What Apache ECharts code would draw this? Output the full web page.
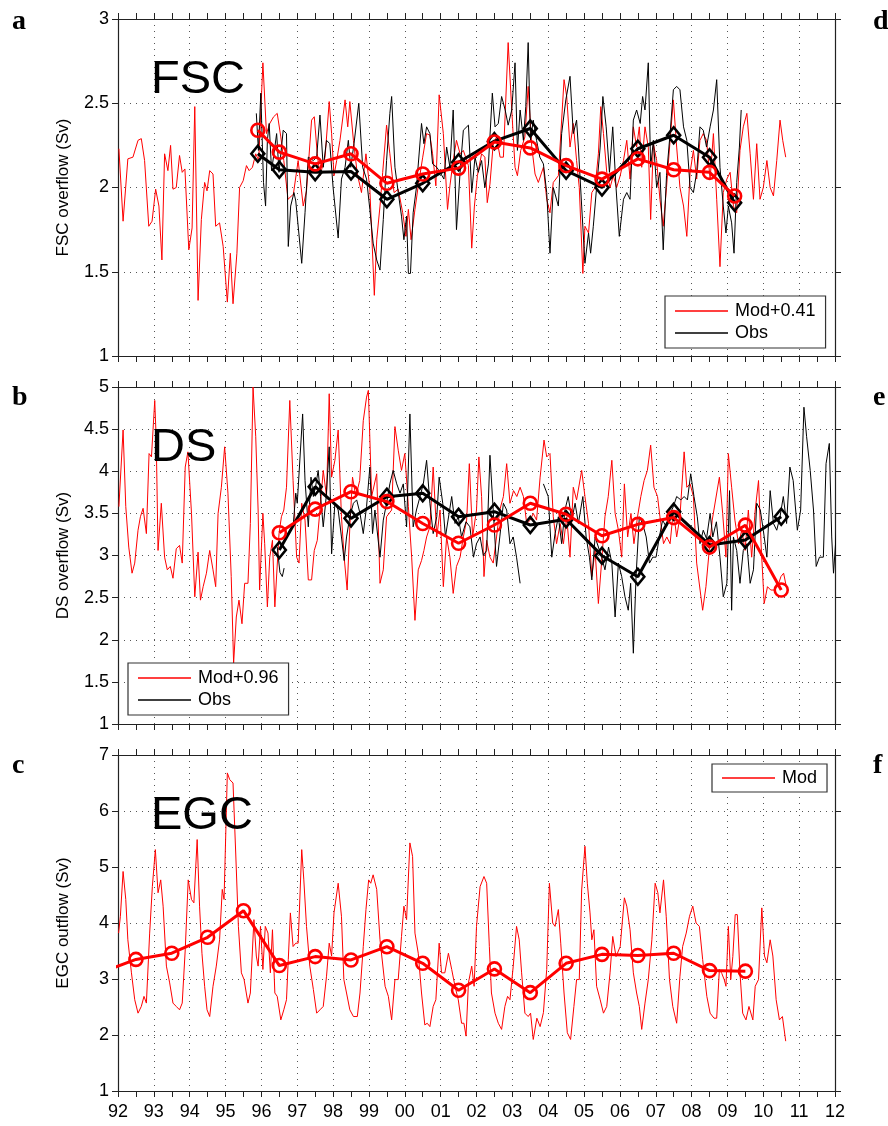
<!DOCTYPE html>
<html>
<head>
<meta charset="utf-8">
<script src="https://cdn.jsdelivr.net/npm/echarts@6/dist/echarts.min.js"></script>
<style>
html,body{margin:0;padding:0;background:#fff;}
#chart{width:888px;height:1126px;}
</style>
</head>
<body>
<div id="chart"></div>
<script>
// Monthly series are stored as [month index since Jan 1992, value].
const START_YEAR = 92;
const X_MIN = 92, X_MAX = 112;

// ---------- Panel a: FSC overflow (Sv) ----------
const fscMod = [[0.3,2.23],[1.7,1.80],[3.3,2.17],[5,2.18],[6.7,2.28],[7.8,2.29],[8.9,2.16],[10.3,1.77],[11.4,1.80],[12.6,1.99],[13.7,1.89],[14.7,1.57],[15.6,2.20],[16.7,2.10],[17.6,2.25],[18.4,1.99],[19.5,2.0],[20.6,2.19],[21.5,2.09],[22.4,2.11],[23.7,1.63],[24.8,1.76],[25.7,2.48],[26.8,1.33],[27.9,1.81],[29,2.03],[29.8,1.98],[30.7,2.10],[31.8,2.08],[32.7,1.77],[34,1.79],[35.2,1.65],[36.6,1.32],[37.6,1.61],[38.5,1.31],[39.8,1.61],[40.7,2.0],[41.9,2.04],[43,2.13],[43.9,2.10],[45,2.12],[46.1,2.20],[47.1,2.16],[48.5,2.74],[49.7,2.32],[50.8,2.38],[52.1,2.42],[53.3,2.44],[54.5,2.30],[55.5,2.16],[56.9,1.93],
[58.7,1.96],[60.3,2.16],[62,1.89],[63.1,1.98],[64.8,2.40],[65.7,2.42],[66.7,2.20],[67.6,2.07],[69.3,2.18],[70.7,2.51],[71.5,2.32],[72.3,2.07],[73.2,2.16],[74.3,2.28],[76,2.52],[76.9,2.36],[77.6,2.51],[78.8,2.28],[80.1,2.08],[81.5,1.97],[83,2.20],[84.3,1.99],[85.8,1.36],[86.6,1.69],[87.7,1.89],[88.6,2.09],[89.9,2.37],[91,2.20],[92.4,1.97],[93.8,1.99],[95.3,1.85],[96.4,1.71],[97.2,1.87],[98.1,1.69],[99.4,1.87],[100.5,2.01],[102,2.18],[103.3,2.32],[104.4,2.31],[105.3,2.20],[106.4,2.01],[107.5,2.55],[108.9,2.32],[110.3,1.87],[111.1,2.01],[112.2,2.16],[113.3,2.28],[114.5,2.20],[115.6,2.22],[117.3,2.13],[118.4,1.64],[119.3,1.89],[120.3,2.07],[121.7,2.20],[122.8,2.18],[123.6,1.91],[124.5,2.02],[125.6,2.26],[126.7,2.30],[127.9,2.18],[129,2.18],[130.6,2.86],[131.8,2.46],[132.9,2.12],[133.7,2.07],[134.8,2.22],[136.2,2.30],[137.3,2.60],[138.5,2.24],[139.6,2.08],[140.7,2.03],[142.4,2.12],[143.5,1.93],[144.6,1.85],[145.7,2.03],[147.4,2.07],
[149.3,2.64],[150.2,2.54],[151.3,2.24],[152.4,2.38],[153.5,2.16],[154.4,2.0],[155.6,1.49],[156.3,1.77],[157.5,1.73],[158.6,1.97],[159.7,2.0],[160.8,2.20],[161.6,2.48],[162.5,2.32],[163.6,2.09],[164.7,2.0],[165.8,2.07],[166.9,2.0],[168.1,2.07],[169.2,2.16],[170.3,2.28],[171.4,2.05],[172.5,2.36],[173.6,2.24],[174.5,2.36],[175.3,2.12],[176.4,2.36],[177.5,2.24],[178.3,1.81],[179.2,2.26],[180.3,2.16],[181.4,1.93],[182.5,1.77],[183.6,2.0],[184.8,2.28],[185.9,2.52],[187,2.24],[188.1,2.0],[189.3,1.89],[190.4,1.71],[191.5,2.09],[192.6,2.22],[193.7,2.05],[194.8,2.28],[195.9,2.32],[197,2.28],[198.2,2.05],[199.3,2.32],[200.4,1.93],[201.5,1.53],[202.6,1.97],[203.8,2.05],[204.9,2.09],[206,1.89],[207.1,1.85],[208.2,2.22],[209.3,2.36],[210.5,2.44],[211.6,2.20],[212.7,1.93],[213.8,2.26],[214.9,1.93],[216,2.0],[217.2,2.16],[218.3,2.0],[219.4,1.95],[220.5,2.16],[221.6,2.40],[222.5,2.28],[223.5,2.18]];

const fscObs = [[46.3,2.44],[47,2.22],[47.8,2.56],[48.7,2.03],[49.4,1.89],[50,2.28],[50.6,2.38],[51.4,2.10],[52.2,2.20],[53.1,2.32],[53.9,2.09],[55.3,2.34],[56.4,2.32],[57,1.65],[57.8,1.89],[58.9,1.97],
[59.5,1.92],[61.5,1.55],[62.6,1.85],[63.7,2.18],[65.4,2.16],[66.5,2.18],[67.6,2.43],[68.7,2.12],[69.8,2.28],[70.9,2.26],[72,2.0],[73.7,1.70],[74.8,2.05],[76,2.12],[77.1,2.28],[77.9,2.12],[79,2.26],[80.6,2.50],[81.9,2.12],[83.2,2.05],[84.3,1.87],[85.4,1.67],[86.6,1.57],[87.7,1.51],[88.8,1.81],[89.9,2.16],[91,2.44],[91.6,2.54],[92.7,2.12],[93.8,1.97],[94.9,1.83],[95.7,1.69],[96.6,1.83],[97.2,1.49],[97.9,1.49],[98.8,1.85],[99.9,2.0],[101.6,2.38],[102.4,2.26],[103.3,2.36],[104.4,2.32],[105.3,2.14],[106.7,2.12],[107.8,2.09],[109.1,2.05],[110,2.24],[111.1,2.12],[112.2,2.46],[113.3,1.75],[114.5,2.09],[115.6,2.34],[117.3,2.37],[118.4,1.97],[119.5,2.18],[120.6,2.09],[121.7,2.16],[122.8,2.0],[124,2.14],[125.3,2.56],[126.2,2.36],[127.3,2.38],[128.4,2.54],[129.6,2.46],[130.6,2.37],[131.8,2.46],[132.9,2.74],[133.7,2.22],[134.6,2.46],[135.7,2.28],[136.5,2.48],[137.3,2.86],[138.1,2.28],[139,2.40],[140.1,2.28],[141.2,2.18],[142.4,2.14],[143.5,1.97],[144.6,1.61],[145.7,2.0],[147.4,1.89],[148.5,2.32],
[149.9,2.52],[151.3,2.66],[152.4,2.32],[153.5,2.40],[154.1,2.24],[155.2,1.89],[156.3,1.55],[157.5,1.73],[158.2,1.61],[159.1,1.77],[160.2,2.0],[161.4,2.24],[162.3,2.54],[163.4,2.36],[164.5,2.09],[165.6,2.36],[166.7,2.0],[167.8,1.71],[169.2,1.93],[170.3,1.97],[171.4,1.93],[172.5,2.40],[173.6,2.46],[174.8,2.38],[175.6,2.54],[176.4,2.46],[177.5,2.74],[178.3,2.12],[179.2,2.28],[180.3,2.0],[181.4,2.09],[182.5,1.63],[183.6,2.07],[184.8,2.32],[185.9,2.58],[187,2.60],[188.1,2.58],[189.3,2.36],[190.4,2.28],[191.5,2.0],[192.6,1.97],[193.7,2.09],[194.8,2.36],[195.9,2.34],[197,2.24],[198.2,2.36],[199.3,2.46],[200.4,2.64],[201.5,2.12],[202.6,1.89],[203.5,1.73],[204.3,1.89],[205.4,1.79],[206.2,1.61],[207.1,2.03],[208,2.24],[208.6,2.46]];

const fscAnnYears = [95.9,96.5,97.5,98.5,99.5,100.5,101.5,102.5,103.5,104.5,105.5,106.5,107.5,108.5,109.2];
const fscModAnn = [2.34,2.21,2.14,2.20,2.025,2.08,2.115,2.27,2.235,2.13,2.05,2.17,2.105,2.09,1.95];
const fscObsAnn = [2.20,2.105,2.09,2.095,1.93,2.025,2.15,2.275,2.35,2.10,2.0,2.23,2.31,2.18,1.91];

// ---------- Panel b: DS overflow (Sv) ----------
const dsMod = [[0.3,3.58],[1.7,4.49],[2.6,3.58],[3.6,3.10],[4.7,2.79],[5.6,2.91],[6.7,3.30],[7.5,3.46],[8.4,3.56],[9.5,3.26],[10.4,4.21],[11.2,4.17],[12.3,4.84],[12.8,4.37],[13.4,3.06],[14.5,3.62],[15.6,2.98],[16.5,2.83],[17.5,2.87],[18.4,2.73],[19.5,3.08],[20.6,3.12],[21.5,2.91],[22.5,4.05],[23.4,4.23],[24.6,3.50],[25.7,2.51],[26.8,3.04],[27.6,2.47],[28.5,2.63],[29.6,2.79],[30.7,3.06],[31.8,2.83],[32.7,2.63],[33.5,3.50],[34.6,3.81],[35.7,4.29],[36.8,3.74],[37.9,2.75],[38.7,1.72],[39.6,2.27],[40.5,2.47],[41.5,2.19],[42.4,2.67],[43.5,2.67],[44.3,3.38],[45.2,5.0],[46.1,4.41],[46.9,3.54],[47.4,2.59],[48.5,3.50],[49.1,3.14],[50,2.39],[50.8,2.98],[51.7,3.18],[52.5,2.39],[53.9,3.26],[54.7,3.46],[55.5,3.54],[56.4,3.81],[57.5,4.84],[58.6,3.89],[59.8,2.98],
[60.6,2.91],[61.5,3.62],[62.6,3.42],[63.7,2.71],[64.8,2.71],[65.7,3.06],[66.7,3.18],[67.6,3.54],[68.7,4.01],[69.8,3.70],[70.7,4.92],[71.5,3.93],[72.6,4.13],[73.7,4.49],[74.8,3.46],[75.7,2.98],[76.7,2.59],[77.6,3.34],[78.5,3.93],[79.6,3.70],[80.9,3.89],[82.1,4.60],[83.2,4.88],[83.8,4.96],[84.9,3.70],[86.6,3.97],[87.7,2.67],[88.8,2.83],[89.9,3.46],[91.6,3.54],[92.7,4.53],[93.8,4.25],[94.9,4.01],[96,4.21],[97.2,3.58],[98.3,2.98],[99.4,2.23],[100.5,2.83],[101.6,2.94],[102.4,3.06],[103.3,3.22],[104.4,3.34],[105.5,4.05],[106.7,3.22],[107.8,3.54],[108.9,2.63],[110,3.22],[111.1,2.98],[112.2,2.55],[113.3,2.87],[114.5,2.98],[115.6,3.22],[116.7,3.42],[117.6,4.09],[118.7,3.22],[120,3.54],[120.8,4.17],[121.7,3.70],[122.5,2.75],[123.4,3.18],[124.5,2.98],[125.6,2.91],[126.7,3.22],[127.8,3.54],[129,3.70],[130.1,4.09],[131.2,3.62],[132.4,3.77],[133.5,3.70],[134.6,3.81],[135.7,3.70],[136.8,3.38],[138,3.42],[139,3.50],[140.1,3.42],[141.3,3.93],[142.6,4.37],[143.5,4.17],[144.6,4.21],[145.7,3.46],[146.8,3.14],[148,3.38],[149.1,3.14],[150.2,3.46],[151.3,2.98],[152.4,3.81],[153.5,3.66],
[155.2,4.01],[156.3,3.70],[157.5,3.38],[158.6,2.75],[159.7,3.06],[160.8,2.43],[162,2.98],[163,3.46],[164.1,3.70],[165.3,4.13],[166.4,3.50],[167.5,3.30],[168.6,2.98],[169.5,3.85],[170.6,3.22],[171.7,3.50],[172.7,3.14],[173.9,3.46],[175,3.70],[176.1,3.89],[177.2,4.01],[178.3,4.31],[179.4,3.81],[180.6,3.70],[181.4,3.46],[182.6,3.14],[183.7,3.22],[184.8,3.14],[185.9,3.54],[187,3.22],[188.1,3.46],[189.5,4.23],[190.4,3.81],[191.5,3.85],[192.6,3.70],[193.7,2.91],[195.7,2.35],[196.8,2.63],[197.9,3.06],[198.9,3.42],[201.3,3.93],[202.4,3.50],[203.5,2.98],[204.3,4.21],[205.4,3.81],[206.5,3.42],[207.7,3.14],[208.8,3.30],[209.9,3.06],[211,3.54],[212.1,2.98],[213.3,3.54],[214.4,3.89],[215.3,3.10],[216.3,2.43],[217.4,2.63],[218.5,2.59],[219.6,2.59],[220.8,2.63],[221.9,2.75],[222.8,2.79],[223.7,2.63]];

// null entries mark gaps in the observational record
const dsObs = [[53.3,3.10],[54.2,2.80],[55,2.75],[55.6,2.85],[56.5,null],
[58.7,3.38],[59.5,3.74],[60,3.62],[61.8,4.68],[62.6,3.89],[63.7,3.34],[64.6,3.93],[65.4,3.70],[66.1,3.81],[67,4.01],[67.8,3.70],[68.7,3.34],[69.7,3.70],[70.7,4.29],[71.5,3.02],[72.6,3.62],[73.7,3.54],[74.8,3.22],[75.7,2.94],[76.5,3.22],[77.6,3.46],[78.8,3.62],[79.9,3.66],[81,3.50],[82.1,3.26],[83.2,3.58],[84.3,4.05],[85.2,3.26],[86,3.54],[87.7,2.98],[88.8,3.42],[89.9,3.62],[91,3.85],[92.1,4.01],[93.3,3.85],[94.4,3.74],[95.5,3.85],[96.6,3.34],[97.7,4.68],[98.8,3.34],[99.9,3.54],[101.1,3.70],[102.2,3.85],[103.3,4.13],[104.4,3.62],[105.5,3.26],[106.7,3.46],[107.5,3.93],[108.7,3.62],[109.6,3.22],[111.7,3.70],[112.8,3.38],[113.9,3.46],[115,3.22],[116.5,3.40],[117.8,3.34],[119,2.98],[120,3.14],[121.2,3.22],[122.3,3.00],[123.4,3.06],[124.5,4.19],[125.6,3.54],[126.7,2.87],[127.8,3.22],[129,3.62],[130.1,3.54],[131.2,3.14],[132.3,3.22],[133.4,2.98],[134.6,2.67],[135.5,null],
[142.4,3.85],[144,3.70],[145.2,2.98],[146.3,3.26],[147.4,3.46],[148.5,3.14],[149.6,3.54],[150.7,3.70],[151.9,3.42],[153,3.62],[154.1,3.38],[155.6,3.70],[156.7,3.22],[157.8,2.98],[158.6,2.71],[159.7,3.22],[160.8,3.10],[161.9,2.98],[163,2.83],[164.2,3.10],[165.3,2.91],[166.4,2.27],[167.5,2.91],[168.6,2.75],[169.7,2.51],[170.8,2.35],[171.6,2.67],[172.5,1.84],[173.4,2.75],[174.5,3.46],[175.6,3.38],[176.8,3.22],[177.9,2.91],[179,2.98],[180.1,2.98],[181.2,3.22],[182.3,3.42],[183.5,3.34],[184.8,3.50],[185.9,3.58],[187,3.70],[188.4,3.66],[189.5,3.70],[190.6,3.66],[191.7,3.97],[192.8,3.70],[193.9,3.46],[194.8,3.14],[195.9,3.30],[197,3.20],[198.2,3.50],[199.1,3.22],[200.3,3.40],[201.5,2.98],[202.6,2.51],[203.8,2.67],[204.7,3.77],[205.4,2.35],[206,3.22],[207.1,3.06],[208.2,2.67],[209.3,3.06],[210.5,3.14],[211.6,2.67],[212.7,2.83],[213.8,3.62],[215,3.54],[216,3.30],[217.2,2.98],[218.3,3.77],[219.4,3.38],[220.5,3.30],[221.6,3.46],[222.7,3.70],[223.8,3.38],[224.9,4.05],[226,3.89],[227.4,3.30],[228.5,3.54],[229.6,4.76],[230.5,4.41],[231.7,4.01],[232.8,3.54],[233.7,2.87],[234.8,2.98],[236.1,2.98],[237,4.09],[238.1,4.33],[238.9,3.22],[239.5,2.79],[240.5,3.30]];

const dsAnnYears = [96.5,97.5,98.5,99.5,100.5,101.5,102.5,103.5,104.5,105.5,106.5,107.5,108.5,109.5,110.5];
const dsModAnn = [3.27,3.55,3.757,3.64,3.38,3.145,3.362,3.62,3.49,3.235,3.37,3.45,3.10,3.36,2.59];
const dsObsAnn = [3.065,3.817,3.441,3.698,3.738,3.46,3.52,3.362,3.43,2.998,2.748,3.52,3.125,3.184,3.46];

// ---------- Panel c: EGC outflow (Sv) ----------
const egcMod = [[0.2,3.82],[0.8,4.12],[1.7,4.92],[2.6,4.42],[3.3,3.70],[4.5,3.11],[5.6,2.63],[6.7,2.39],[7.8,2.51],[8.7,2.69],[9.5,2.57],[10.6,3.82],[11.5,4.65],[12.5,5.31],[13.4,4.54],[14.3,4.77],[15.1,4.30],[16.2,3.23],[17.3,2.93],[18.4,2.57],[19.5,2.51],[20.6,2.45],[21.5,2.57],[22.5,3.52],[23.5,4.77],[24.6,4.42],[25.4,4.36],[26.5,5.49],[27.3,4.30],[28.1,3.46],[29,2.87],[29.8,2.45],[30.7,2.33],[31.8,2.87],[32.9,3.23],[34,3.70],[34.9,4.60],[35.5,4.42],[36.6,6.68],[37.4,6.56],[38.5,6.50],[39.4,5.25],[40.3,3.94],[41.3,3.11],[42.2,2.99],[43.5,2.57],[44.3,2.75],[45.5,4.06],[46.3,3.41],[46.9,3.23],[47.7,3.94],[48.5,3.17],[49.3,3.94],[50.2,3.82],[51,3.11],[51.7,3.88],[52.5,2.75],[53.3,2.69],[54.5,2.27],[55.5,2.45],[56.4,2.63],[57,3.35],[57.7,4.18],[58.6,3.58],[59.5,3.64],
[60.3,3.64],[61.5,5.31],[62.2,4.77],[63.1,3.94],[64.2,3.23],[65.4,2.81],[66.5,2.39],[67.6,2.45],[68.7,2.51],[69.8,3.05],[70.7,3.64],[71.5,3.41],[72.3,4.18],[73.7,4.71],[74.8,4.12],[75.6,2.99],[76.5,2.75],[77.6,2.45],[78.8,2.33],[80.1,2.33],[81,2.75],[82.1,3.58],[83,4.24],[83.9,4.77],[84.6,4.71],[85.4,4.86],[86.6,4.60],[87.7,3.70],[89.4,2.87],[90.5,2.69],[91.6,2.27],[92.7,2.99],[93.8,2.99],[94.9,3.76],[95.7,4.30],[96.6,4.06],[97.7,5.43],[98.6,5.19],[99.4,3.82],[100.5,3.46],[101.6,2.75],[102.7,2.18],[103.5,2.21],[104.4,2.15],[105.5,2.51],[106.4,2.63],[107.5,3.64],[108.3,3.11],[109.4,3.11],[110.6,3.46],[111.7,3.17],[112.8,2.87],[113.9,2.63],[115,2.21],[115.8,2.21],[116.5,1.98],[117.3,2.93],[118.4,3.23],[119.2,2.87],[120,3.94],[121.2,4.65],[122.5,4.83],[123.4,4.71],[124.3,3.58],[125,2.75],[126.2,2.39],[127.3,2.21],[128.4,2.10],[129.5,2.51],[130.4,2.69],[131.2,2.63],[132.3,3.23],[133.4,3.94],[134.3,3.70],[135.1,3.11],[136.2,2.39],[137.3,2.33],[138.1,2.39],[139,1.92],[140.2,2.30],[141.3,2.15],[142.4,2.40],[143.5,3.17],[144.4,4.71],[145.5,4.00],[146.3,3.94],[147.4,4.24],[148.2,3.64],[149.3,2.75],[150.4,2.04],[151.5,1.92],[152.6,2.51],[153.5,2.99],[154.4,2.99],
[155.2,4.59],[156.3,5.37],[157.1,4.71],[158,4.18],[158.6,3.70],[159.3,3.88],[160.2,2.87],[161.4,2.63],[162.5,2.39],[163.6,2.51],[164.7,3.11],[165.6,3.76],[166.7,3.40],[168.1,3.58],[169.5,4.45],[170.3,4.30],[171.4,3.88],[172.5,3.11],[173.6,2.75],[174.5,2.51],[175.3,2.10],[176.4,2.57],[177.5,2.99],[178.7,3.70],[179.8,4.71],[180.7,4.54],[181.4,4.18],[182.6,4.77],[183.5,4.12],[184.6,2.99],[185.7,2.51],[187,2.21],[188.1,3.05],[189,3.58],[190.2,3.82],[191.3,4.12],[192.4,4.30],[193.5,4.00],[194.6,3.94],[195.7,3.35],[197.1,2.69],[198.2,2.39],[199.5,2.30],[200.4,2.30],[201.3,3.17],[202.1,3.10],[202.9,2.99],[203.5,2.87],[204.3,3.94],[205.1,2.99],[205.8,3.40],[206.6,4.15],[207.3,4.15],[208.2,3.11],[209.1,2.39],[210.2,2.27],[211.2,2.51],[212.5,2.27],[213.3,2.87],[214.4,2.99],[215.5,4.27],[216.4,3.41],[217.2,3.29],[218.3,3.70],[219.2,3.41],[220.3,2.63],[221.4,2.27],[222.4,2.33],[223.5,1.89]];

const egcAnnYears = [91.5,92.5,93.5,94.5,95.5,96.5,97.5,98.5,99.5,100.5,101.5,102.5,103.5,104.5,105.5,106.5,107.5,108.5,109.5];
const egcModAnn = [3.11,3.35,3.46,3.745,4.22,3.24,3.40,3.34,3.577,3.28,2.80,3.18,2.756,3.28,3.44,3.42,3.46,3.15,3.14];

// ---------- Text ----------
const panelLetters = ['a','b','c','d','e','f'];
const panelTitles = ['FSC','DS','EGC'];
const yNames = ['FSC overflow (Sv)','DS overflow (Sv)','EGC outflow (Sv)'];
const legendNames = [['Mod+0.41','Obs'],['Mod+0.96','Obs'],['Mod']];
const yRanges = [{min:1,max:3,interval:0.5},{min:1,max:5,interval:0.5},{min:1,max:7,interval:1}];

// ---------- Layout ----------
const GRID_LEFT = 118, GRID_W = 717;
const gridTops = [19, 387, 755];
const gridH = [337, 337, 336];
const RED = '#ff0000', BLACK = '#000000';
const FONT = '"Liberation Sans", Arial, Helvetica, sans-serif';

function monthly(arr){
  return arr.map(p => [START_YEAR + p[0]/12, p[1] === null ? '-' : p[1]]);
}
function annual(years, vals){ return years.map((y,i)=>[y, vals[i]]); }

const axisLine = {show:true, onZero:false, lineStyle:{color:'#222', width:1.2}};
const tick = {show:true, inside:false, length:6, lineStyle:{color:'#222', width:1}};
const minorTick = {show:true, splitNumber:2, length:6, lineStyle:{color:'#222', width:1}};
const dotted = {show:true, lineStyle:{color:'#555', width:1, type:[1,5]}};

const xAxis = [], yAxis = [];
for (let g=0; g<3; g++){
  xAxis.push({type:'value', gridIndex:g, position:'bottom', min:X_MIN, max:X_MAX, interval:1,
    axisLine, axisTick:tick, minorTick, splitLine:dotted,
    axisLabel:{show:g===2, margin:12, color:'#000', fontSize:18, fontFamily:FONT,
      formatter:v => String(Math.round(v)%100).padStart(2,'0')}});
  xAxis.push({type:'value', gridIndex:g, position:'top', min:X_MIN, max:X_MAX, interval:1,
    axisLine, axisTick:tick, minorTick, splitLine:{show:false}, axisLabel:{show:false}});
  const r = yRanges[g];
  yAxis.push({type:'value', gridIndex:g, position:'left', min:r.min, max:r.max, interval:r.interval,
    axisLine, axisTick:tick, splitLine:dotted,
    name:yNames[g], nameLocation:'middle', nameGap:46, nameRotate:90,
    nameTextStyle:{color:'#000', fontSize:17, fontFamily:FONT},
    axisLabel:{margin:9, color:'#000', fontSize:18, fontFamily:FONT}});
  yAxis.push({type:'value', gridIndex:g, position:'right', min:r.min, max:r.max, interval:r.interval,
    axisLine, axisTick:tick, splitLine:{show:false}, axisLabel:{show:false}});
}

function thin(name, data, color, g){
  return {type:'line', name, xAxisIndex:2*g, yAxisIndex:2*g, data, symbol:'none',
    lineStyle:{color, width:1}, itemStyle:{color}, connectNulls:false, silent:true, z:2};
}
function thick(name, data, color, g, symbol, size){
  return {type:'line', name, xAxisIndex:2*g, yAxisIndex:2*g, data, symbol, symbolSize:size,
    showSymbol:true, lineStyle:{color, width:3}, itemStyle:{color:'rgba(255,255,255,0)', borderColor:color, borderWidth:2.6},
    silent:true, z: color===RED ? 5 : 4};
}

const series = [
  thin('Mod+0.41', monthly(fscMod), RED, 0),
  thin('Obs', monthly(fscObs), BLACK, 0),
  thick('FSC Obs annual', annual(fscAnnYears, fscObsAnn), BLACK, 0, 'diamond', [13,16]),
  thick('FSC Mod annual', annual(fscAnnYears, fscModAnn), RED, 0, 'circle', 13),
  thin('Mod+0.96', monthly(dsMod), RED, 1),
  thin('Obs', monthly(dsObs), BLACK, 1),
  thick('DS Obs annual', annual(dsAnnYears, dsObsAnn), BLACK, 1, 'diamond', [13,16]),
  thick('DS Mod annual', annual(dsAnnYears, dsModAnn), RED, 1, 'circle', 13),
  thin('Mod', monthly(egcMod), RED, 2),
  thick('EGC Mod annual', annual(egcAnnYears, egcModAnn), RED, 2, 'circle', 13)
];

const legendBase = {orient:'vertical', icon:'rect', itemWidth:53, itemHeight:1.3, itemGap:4,
  padding:[6,10,6,10], backgroundColor:'#fff', borderColor:'#333', borderWidth:1.2,
  textStyle:{color:'#000', fontSize:18, fontFamily:FONT, padding:[0,0,0,2]}, selectedMode:false};
const legend = [
  Object.assign({}, legendBase, {data:legendNames[0], left:665, top:296}),
  Object.assign({}, legendBase, {data:legendNames[1], left:128, top:663}),
  Object.assign({}, legendBase, {data:legendNames[2], left:712, top:764, padding:[5,10,5,10]})
];

const graphic = [];
const letterY = [8, 384, 752];
for (let g=0; g<3; g++){
  graphic.push({type:'text', left:12, top:letterY[g], style:{text:panelLetters[g], fill:'#000',
    font:'bold 28px "Liberation Serif", "Times New Roman", serif'}});
  graphic.push({type:'text', left:873, top:letterY[g], style:{text:panelLetters[g+3], fill:'#000',
    font:'bold 28px "Liberation Serif", "Times New Roman", serif'}});
  graphic.push({type:'text', left:151, top:gridTops[g]+38, style:{text:panelTitles[g], fill:'#000',
    font:'47px "Liberation Sans", Arial, sans-serif'}, z:10});
}

const chart = echarts.init(document.getElementById('chart'), null, {renderer:'canvas'});
chart.setOption({
  animation:false,
  backgroundColor:'#fff',
  grid: gridTops.map((t,i)=>({left:GRID_LEFT, top:t, width:GRID_W, height:gridH[i], containLabel:false})),
  xAxis, yAxis, legend, graphic, series
});
</script>
</body>
</html>
